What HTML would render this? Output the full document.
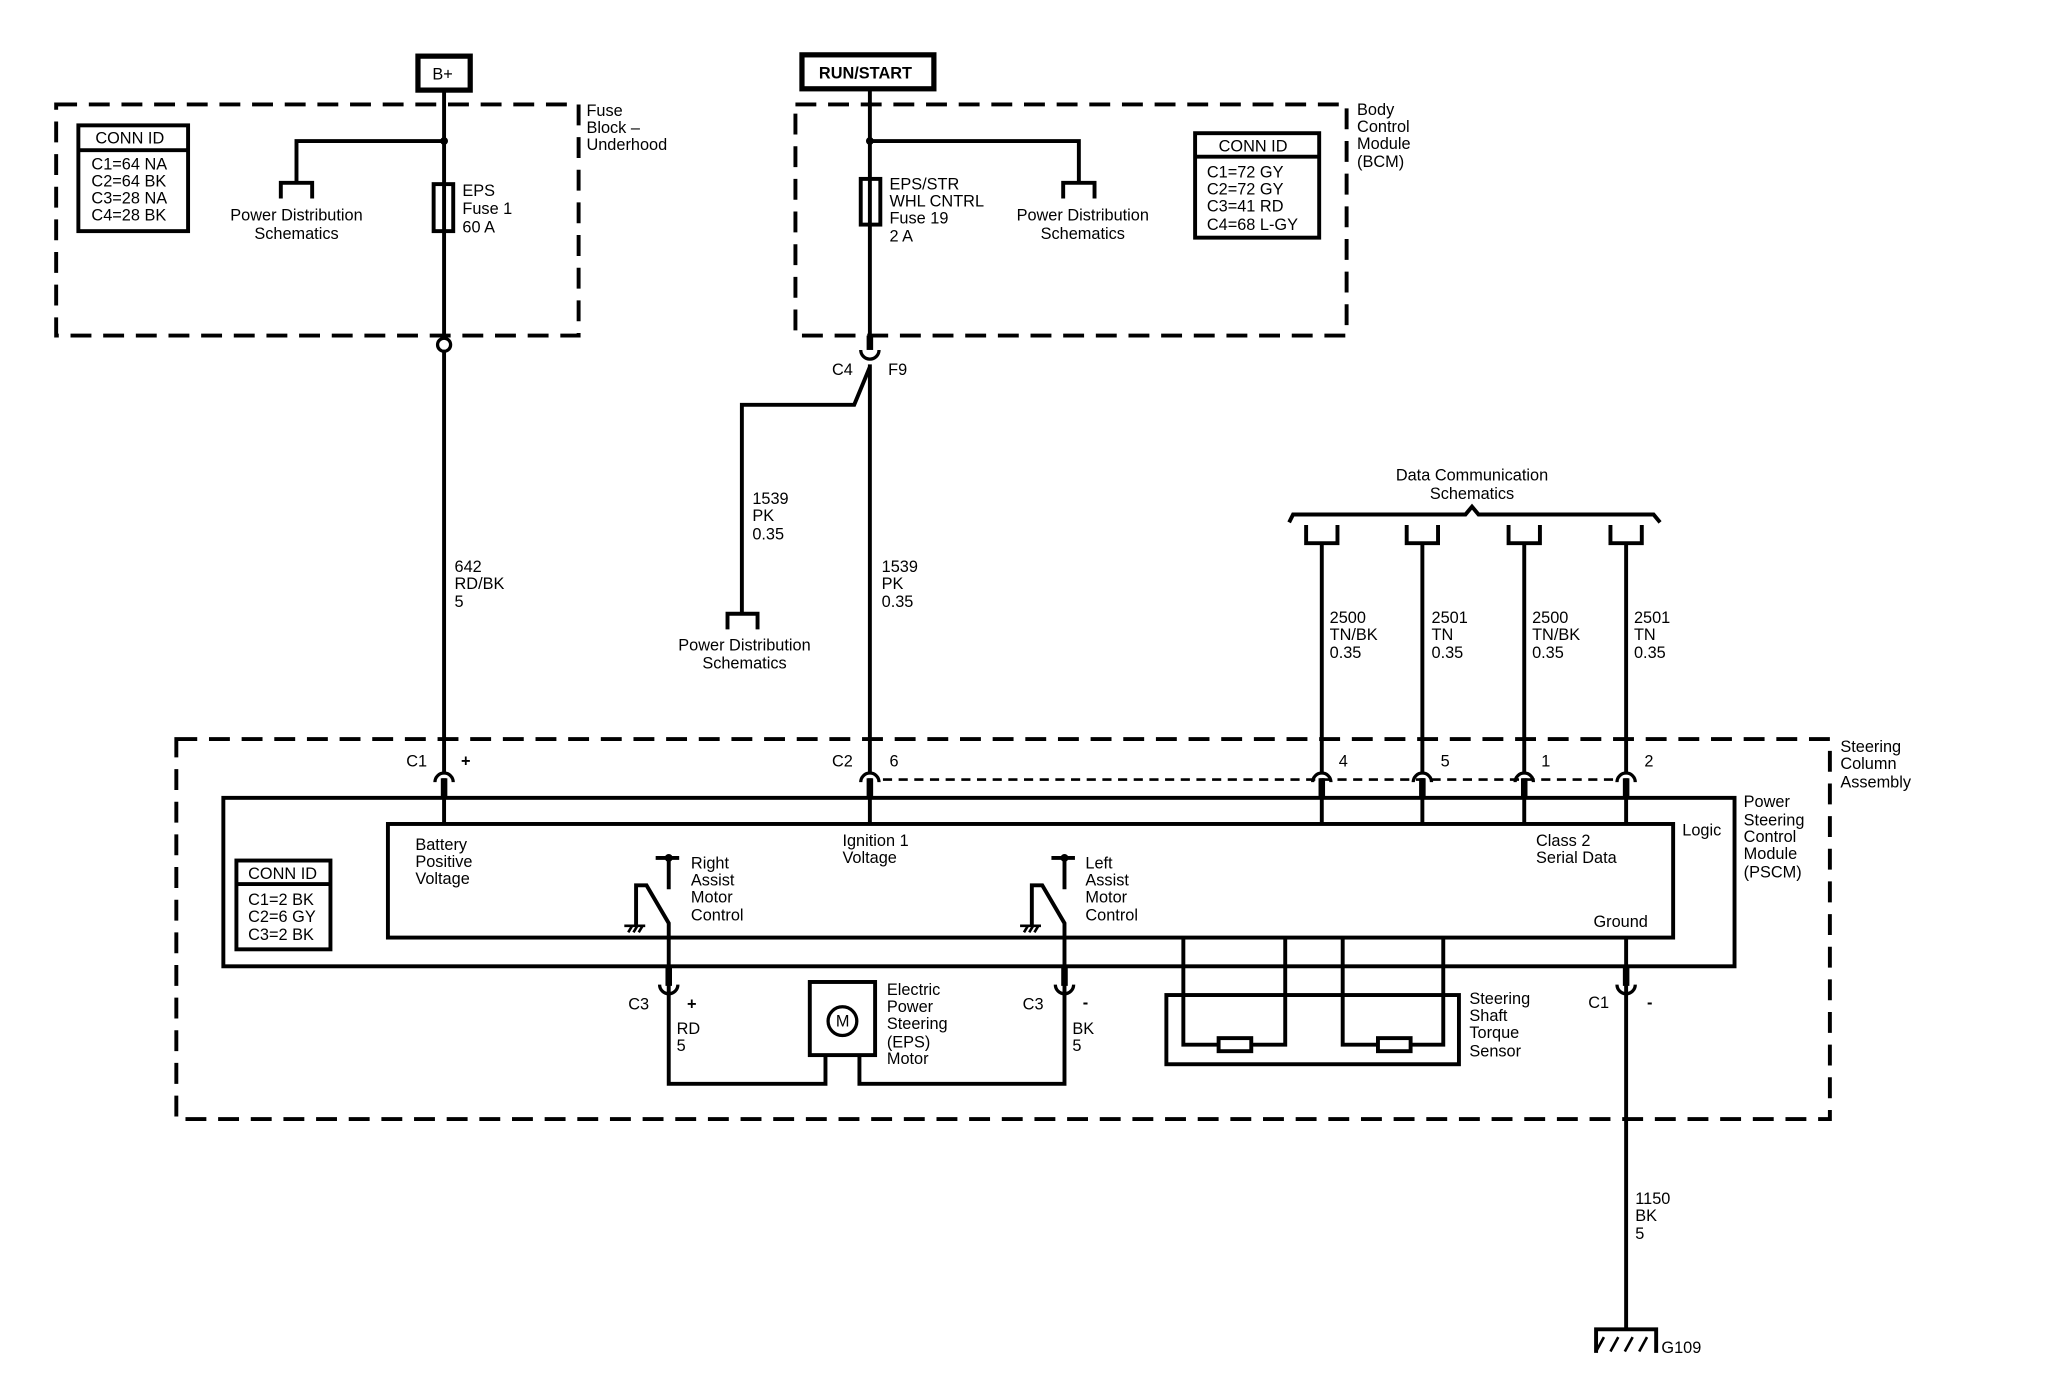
<!DOCTYPE html>
<html><head><meta charset="utf-8"><style>
html,body{margin:0;padding:0;background:#fff}
svg{display:block}
text{font-family:"Liberation Sans",sans-serif;font-size:12.5px;fill:#000}
</style></head><body>
<svg width="2048" height="1392" viewBox="0 0 1568 1066" preserveAspectRatio="none" xmlns="http://www.w3.org/2000/svg">
<g fill="none" stroke="#000">
<g stroke-width="3" stroke-dasharray="16,9">
<rect x="43" y="80" width="400" height="177"/>
<rect x="609" y="80" width="422" height="177"/>
<rect x="135" y="566" width="1266" height="291"/>
</g>
<rect x="320" y="43" width="40" height="26" stroke-width="4"/>
<rect x="614" y="42" width="101" height="26" stroke-width="4"/>
<g stroke-width="3">
<rect x="60" y="96" width="84" height="81"/><line x1="60" y1="115" x2="144" y2="115"/>
<rect x="915" y="102" width="95" height="80"/><line x1="915" y1="120" x2="1010" y2="120"/>
<rect x="181" y="659" width="72" height="68"/><line x1="181" y1="677" x2="253" y2="677"/>
<line x1="340" y1="69" x2="340" y2="259"/>
<polyline points="340,108 227,108 227,140"/>
<polyline points="215,152 215,140 239,140 239,152"/>
<rect x="332" y="141" width="15" height="36"/>
<line x1="340" y1="269" x2="340" y2="592"/>
<line x1="666" y1="68" x2="666" y2="265"/>
<polyline points="666,108 826,108 826,140"/>
<polyline points="814,152 814,140 838,140 838,152"/>
<rect x="659" y="137" width="15" height="35"/>
<line x1="666" y1="279" x2="666" y2="592"/>
<polyline points="666,281 654,310 568,310 568,470"/>
<polyline points="557,482 557,470 580,470 580,482"/>
<path d="M987,400 L990,394 L1122,394 L1127,388 L1132,394 L1266,394 L1271,400"/>
<g>
<polyline points="1000,402 1000,416 1024,416 1024,402"/><line x1="1012" y1="416" x2="1012" y2="592"/>
<polyline points="1077,402 1077,416 1101,416 1101,402"/><line x1="1089" y1="416" x2="1089" y2="592"/>
<polyline points="1155,402 1155,416 1179,416 1179,402"/><line x1="1167" y1="416" x2="1167" y2="592"/>
<polyline points="1233,402 1233,416 1257,416 1257,402"/><line x1="1245" y1="416" x2="1245" y2="592"/>
</g>
<line x1="676" y1="597" x2="1237" y2="597" stroke-width="2" stroke-dasharray="7,5"/>
<rect x="171" y="611" width="1157" height="129"/>
<rect x="297" y="631" width="984" height="87"/>
<line x1="340" y1="596" x2="340" y2="631"/>
<line x1="666" y1="596" x2="666" y2="631"/>
<line x1="1012" y1="596" x2="1012" y2="631"/>
<line x1="1089" y1="596" x2="1089" y2="631"/>
<line x1="1167" y1="596" x2="1167" y2="631"/>
<line x1="1245" y1="596" x2="1245" y2="631"/>
<line x1="502" y1="657" x2="520" y2="657"/><line x1="512" y1="657" x2="512" y2="681"/>
<polyline points="487,709 487,678 495,678 512,707 512,830 632,830 632,808"/>
<line x1="805" y1="657" x2="823" y2="657"/><line x1="815" y1="657" x2="815" y2="681"/>
<polyline points="790,709 790,678 798,678 815,707 815,830 658,830 658,808"/>
<rect x="620" y="752" width="50" height="56"/>
<circle cx="645" cy="782" r="11" stroke-width="2.5"/>
<rect x="893" y="762" width="224" height="53"/>
<polyline points="906,718 906,800 984,800 984,718"/>
<polyline points="1028,718 1028,800 1105,800 1105,718"/>
<rect x="933" y="795" width="25" height="10" fill="#fff"/>
<rect x="1055" y="795" width="25" height="10" fill="#fff"/>
<line x1="1245" y1="718" x2="1245" y2="1018"/>
<polyline points="1222,1036 1222,1018 1268,1018 1268,1036"/>
</g>
<g stroke-width="5">
<line x1="340" y1="596" x2="340" y2="611"/><line x1="666" y1="596" x2="666" y2="611"/>
<line x1="1012" y1="596" x2="1012" y2="611"/><line x1="1089" y1="596" x2="1089" y2="611"/>
<line x1="1167" y1="596" x2="1167" y2="611"/><line x1="1245" y1="596" x2="1245" y2="611"/>
<line x1="512" y1="740" x2="512" y2="755"/><line x1="815" y1="740" x2="815" y2="755"/>
<line x1="1245" y1="740" x2="1245" y2="755"/>
<line x1="666" y1="257" x2="666" y2="268"/>
</g>
<g stroke-width="2.5">
<path d="M333,599 A7,7 0 0 1 347,599"/><path d="M659,599 A7,7 0 0 1 673,599"/>
<path d="M1005,599 A7,7 0 0 1 1019,599"/><path d="M1082,599 A7,7 0 0 1 1096,599"/>
<path d="M1160,599 A7,7 0 0 1 1174,599"/><path d="M1238,599 A7,7 0 0 1 1252,599"/>
<path d="M505,754 A7,7 0 0 0 519,754"/><path d="M808,754 A7,7 0 0 0 822,754"/>
<path d="M1238,754 A7,7 0 0 0 1252,754"/>
<path d="M659,268 A7,7 0 0 0 673,268"/>
<circle cx="340" cy="264" r="5"/>
</g>
<g stroke-width="2">
<line x1="1222" y1="1035" x2="1228" y2="1024"/><line x1="1233" y1="1035" x2="1239" y2="1024"/><line x1="1244" y1="1035" x2="1250" y2="1024"/><line x1="1255" y1="1035" x2="1261" y2="1024"/>
<line x1="478" y1="709" x2="494" y2="709"/><line x1="481" y1="714" x2="484" y2="709"/><line x1="485" y1="714" x2="488" y2="709"/><line x1="489" y1="714" x2="492" y2="709"/>
<line x1="781" y1="709" x2="797" y2="709"/><line x1="784" y1="714" x2="787" y2="709"/><line x1="788" y1="714" x2="791" y2="709"/><line x1="792" y1="714" x2="795" y2="709"/>
</g>
</g>
<circle cx="340" cy="108" r="3"/><circle cx="666" cy="108" r="3"/>
<circle cx="512" cy="657" r="3"/><circle cx="815" cy="657" r="3"/>
<g>
<text x="331" y="61">B+</text>
<text x="627" y="60" font-weight="bold" font-size="12">RUN/START</text>
<text x="449" y="89">Fuse</text><text x="449" y="102">Block –</text><text x="449" y="115">Underhood</text>
<text x="73" y="110">CONN ID</text>
<text x="70" y="130">C1=64 NA</text><text x="70" y="143">C2=64 BK</text><text x="70" y="156">C3=28 NA</text><text x="70" y="169">C4=28 BK</text>
<text x="227" y="169" text-anchor="middle">Power Distribution</text><text x="227" y="183" text-anchor="middle">Schematics</text>
<text x="354" y="150">EPS</text><text x="354" y="164">Fuse 1</text><text x="354" y="178">60 A</text>
<text x="681" y="145">EPS/STR</text><text x="681" y="158">WHL CNTRL</text><text x="681" y="171">Fuse 19</text><text x="681" y="185">2 A</text>
<text x="829" y="169" text-anchor="middle">Power Distribution</text><text x="829" y="183" text-anchor="middle">Schematics</text>
<text x="933" y="116">CONN ID</text>
<text x="924" y="136">C1=72 GY</text><text x="924" y="149">C2=72 GY</text><text x="924" y="162">C3=41 RD</text><text x="924" y="176">C4=68 L-GY</text>
<text x="1039" y="88">Body</text><text x="1039" y="101">Control</text><text x="1039" y="114">Module</text><text x="1039" y="128">(BCM)</text>
<text x="637" y="287">C4</text><text x="680" y="287">F9</text>
<text x="576" y="386">1539</text><text x="576" y="399">PK</text><text x="576" y="413">0.35</text>
<text x="675" y="438">1539</text><text x="675" y="451">PK</text><text x="675" y="465">0.35</text>
<text x="348" y="438">642</text><text x="348" y="451">RD/BK</text><text x="348" y="465">5</text>
<text x="570" y="498" text-anchor="middle">Power Distribution</text><text x="570" y="512" text-anchor="middle">Schematics</text>
<text x="1127" y="368" text-anchor="middle">Data Communication</text><text x="1127" y="382" text-anchor="middle">Schematics</text>
<text x="1018" y="477">2500</text><text x="1018" y="490">TN/BK</text><text x="1018" y="504">0.35</text>
<text x="1096" y="477">2501</text><text x="1096" y="490">TN</text><text x="1096" y="504">0.35</text>
<text x="1173" y="477">2500</text><text x="1173" y="490">TN/BK</text><text x="1173" y="504">0.35</text>
<text x="1251" y="477">2501</text><text x="1251" y="490">TN</text><text x="1251" y="504">0.35</text>
<text x="1409" y="576">Steering</text><text x="1409" y="589">Column</text><text x="1409" y="603">Assembly</text>
<text x="311" y="587">C1</text><text x="353" y="587" font-weight="bold" font-size="15">+</text>
<text x="637" y="587">C2</text><text x="681" y="587">6</text>
<text x="1025" y="587">4</text><text x="1103" y="587">5</text><text x="1180" y="587">1</text><text x="1259" y="587">2</text>
<text x="1335" y="618">Power</text><text x="1335" y="632">Steering</text><text x="1335" y="645">Control</text><text x="1335" y="658">Module</text><text x="1335" y="672">(PSCM)</text>
<text x="1288" y="640">Logic</text>
<text x="318" y="651">Battery</text><text x="318" y="664">Positive</text><text x="318" y="677">Voltage</text>
<text x="645" y="648">Ignition 1</text><text x="645" y="661">Voltage</text>
<text x="1176" y="648">Class 2</text><text x="1176" y="661">Serial Data</text>
<text x="1220" y="710">Ground</text>
<text x="529" y="665">Right</text><text x="529" y="678">Assist</text><text x="529" y="691">Motor</text><text x="529" y="705">Control</text>
<text x="831" y="665">Left</text><text x="831" y="678">Assist</text><text x="831" y="691">Motor</text><text x="831" y="705">Control</text>
<text x="190" y="673">CONN ID</text>
<text x="190" y="693">C1=2 BK</text><text x="190" y="706">C2=6 GY</text><text x="190" y="720">C3=2 BK</text>
<text x="481" y="773">C3</text><text x="526" y="773" font-weight="bold" font-size="15">+</text>
<text x="518" y="792">RD</text><text x="518" y="805">5</text>
<text x="783" y="773">C3</text><text x="829" y="772" font-weight="bold" font-size="15">-</text>
<text x="821" y="792">BK</text><text x="821" y="805">5</text>
<text x="640" y="786" font-size="11">M</text>
<text x="679" y="762">Electric</text><text x="679" y="775">Power</text><text x="679" y="788">Steering</text><text x="679" y="802">(EPS)</text><text x="679" y="815">Motor</text>
<text x="1125" y="769">Steering</text><text x="1125" y="782">Shaft</text><text x="1125" y="795">Torque</text><text x="1125" y="809">Sensor</text>
<text x="1216" y="772">C1</text><text x="1261" y="772" font-weight="bold" font-size="15">-</text>
<text x="1252" y="922">1150</text><text x="1252" y="935">BK</text><text x="1252" y="949">5</text>
<text x="1272" y="1036">G109</text>
</g>
</svg>
</body></html>
